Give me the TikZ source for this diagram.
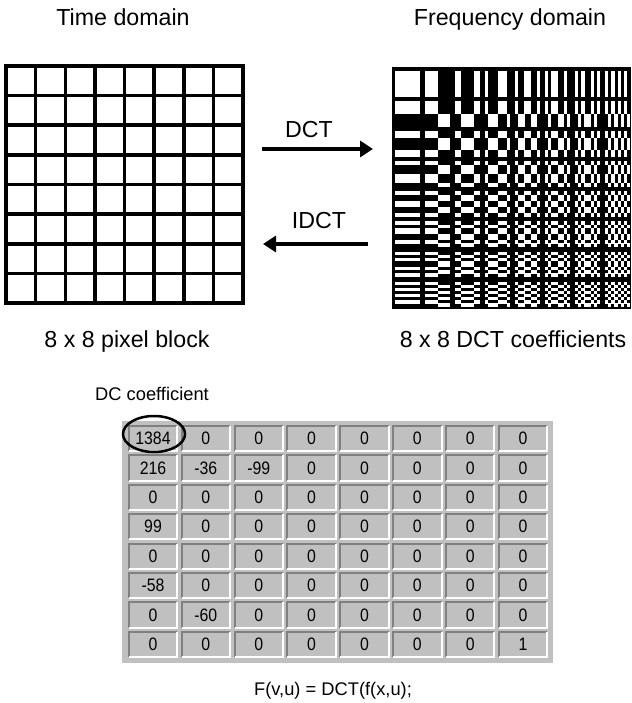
\documentclass[tikz,border=0pt]{standalone}
\usepackage{fontspec}
\setmainfont{Liberation Sans}
\newfontfamily\cellfont[FakeStretch=0.88]{Liberation Sans}
\usetikzlibrary{arrows.meta, shapes.geometric}
\definecolor{wingray}{RGB}{192,192,192}
\definecolor{winshade}{RGB}{128,128,128}

\begin{document}
\begin{tikzpicture}[x=1pt, y=-1pt,
  heading/.style={font=\fontsize{23.2}{28}\selectfont, anchor=base, inner sep=0pt},
  note/.style={font=\fontsize{18.3}{22}\selectfont, anchor=base, inner sep=0pt},
  conv/.style={-{Triangle[length=13pt, width=16pt]}, line width=4.5pt},
  gridline/.style={line width=3.5pt},
  cell/.style={fill=wingray, minimum width=48pt, minimum height=25pt, inner sep=0pt,
    font=\cellfont\fontsize{18}{20}\selectfont},
  shade/.style={draw=winshade, line width=2pt},
  lit/.style={draw=white, line width=2pt}
]
\useasboundingbox (0,0) rectangle (631,703);

% pixel block, 8 x 8 cells
\node[draw, gridline, minimum size=237pt, inner sep=0pt] (pix) at (124.5,184.5) {};
\foreach \k in {1,...,7} {
  \draw[gridline] (6+29.625*\k,66) -- (6+29.625*\k,303);
  \draw[gridline] (6,66+29.625*\k) -- (243,66+29.625*\k);
}

% DCT basis patterns, white where the product of cosines is positive
\node[fill=black, minimum width=239pt, minimum height=242pt, inner sep=0pt] (freq) at (511.5,188) {};
\foreach \cv in {0,...,7}
  \foreach \cu in {0,...,7}
    \foreach \py in {0,...,7}
      \foreach \px in {0,...,7} {
        \pgfmathsetmacro\sgn{cos((2*\px+1)*\cu*11.25)*cos((2*\py+1)*\cv*11.25)}
        \ifdim\sgn pt>0pt
          \fill[white] (395+30*\cu+3.125*\px,71.5+30*\cv+3.125*\py) rectangle ++(3.25,3.25);
        \fi
      }

% titles and captions
\node[heading] (tdom)    at (123,26)  {Time domain};
\node[heading] (fdom)    at (510,26)  {Frequency domain};
\node[heading] (pixlbl)  at (127,347) {8 x 8 pixel block};
\node[heading] (freqlbl) at (513,347) {8 x 8 DCT coefficients};

% forward and inverse transform
\coordinate (dctA)  at (262,149);
\coordinate (dctB)  at (373,149);
\coordinate (idctA) at (368,244);
\coordinate (idctB) at (263,244);
\draw[conv] (dctA) -- (dctB);
\draw[conv] (idctA) -- (idctB);
\node[heading] (dctlbl)  at (309,138) {DCT};
\node[heading] (idctlbl) at (319,229) {IDCT};

% coefficient table
\node[fill=wingray, minimum width=431pt, minimum height=242pt, inner sep=0pt] (tbl) at (337.5,542) {};
\foreach \row [count=\j from 0] in {{1384,0,0,0,0,0,0,0},{216,-36,-99,0,0,0,0,0},
    {0,0,0,0,0,0,0,0},{99,0,0,0,0,0,0,0},{0,0,0,0,0,0,0,0},
    {-58,0,0,0,0,0,0,0},{0,-60,0,0,0,0,0,0},{0,0,0,0,0,0,0,1}}
  \foreach \val [count=\i from 0] in \row {
    \node[cell] (k\j\i) at (153+52.86*\i,438.5+29.43*\j) {\val};
    \draw[shade] (k\j\i.south west) |- (k\j\i.north east);
    \draw[lit] (k\j\i.south west) -| (k\j\i.north east);
  }

% DC term
\node[note, anchor=base west] (dclbl) at (95,400) {DC coefficient};
\node[draw, ellipse, line width=2.5pt, minimum width=62pt, minimum height=36pt, inner sep=0pt] (dcring) at (154,434) {};

\node[note] (formula) at (333,695) {F(v,u) = DCT(f(x,u);};
\end{tikzpicture}
\end{document}
